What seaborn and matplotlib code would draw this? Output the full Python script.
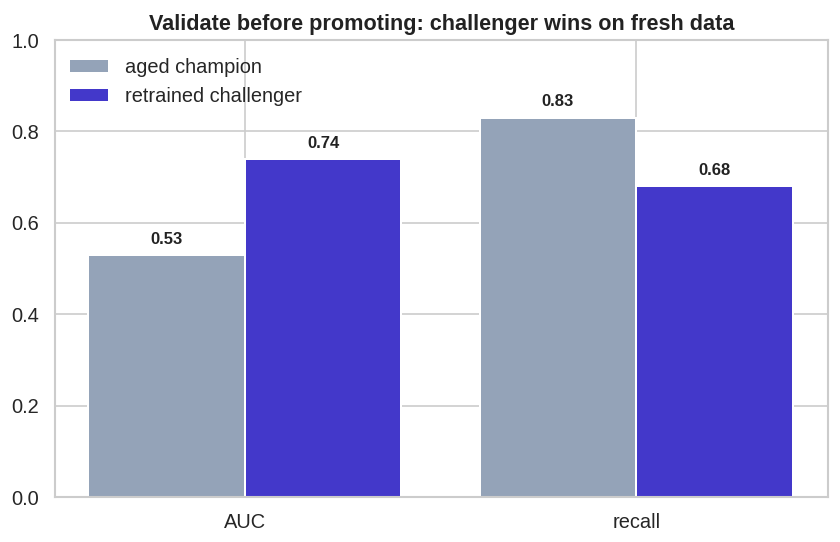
import matplotlib
matplotlib.use("Agg")
import matplotlib.pyplot as plt
import seaborn as sns
import pandas as pd

metrics = ["AUC", "recall"]
models = ["aged champion", "retrained challenger"]
champion_vals = [0.53, 0.83]
challenger_vals = [0.74, 0.68]
colors = ["#94a3b8", "#4338ca"]

df = pd.DataFrame({
    "metric": metrics * 2,
    "model": [models[0]] * 2 + [models[1]] * 2,
    "value": champion_vals + challenger_vals,
})

sns.set_theme(style="whitegrid")
plt.rcParams["font.family"] = ["Liberation Sans", "DejaVu Sans"]

fig, ax = plt.subplots(figsize=(7.0083, 4.5167), dpi=120)
sns.barplot(data=df, x="metric", y="value", hue="model", palette=colors,
            ax=ax, edgecolor="white", linewidth=1.2, saturation=1)

for cont in ax.containers:
    ax.bar_label(cont, labels=[f"{v:.2f}" for v in cont.datavalues],
                 padding=5, fontsize=10, fontweight="bold", color="#222222")

ax.set_ylim(0, 1.0)
ax.set_xlim(-0.486, 1.491)
ax.set_xlabel("")
ax.set_ylabel("")
ax.set_title("Validate before promoting: challenger wins on fresh data",
             fontsize=13, fontweight="bold", color="#222222")
ax.tick_params(axis="both", labelsize=12)
ax.xaxis.grid(True)
leg = ax.legend(loc="upper left", bbox_to_anchor=(-0.005, 1.0),
                fontsize=12, frameon=False, title=None)
fig.subplots_adjust(left=0.065, right=0.985, top=0.926, bottom=0.083)
fig.savefig("out.png", dpi=120)
